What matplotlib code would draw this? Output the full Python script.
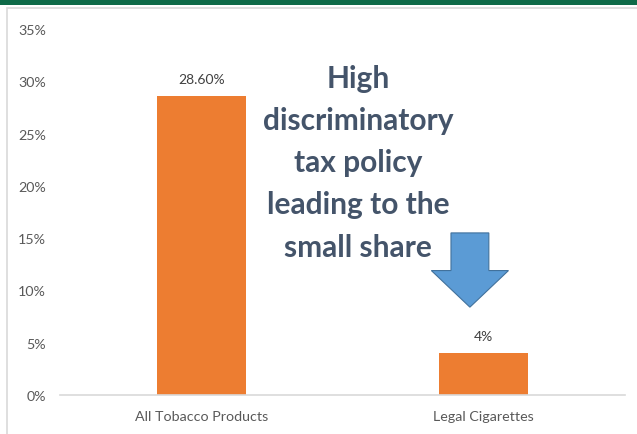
import matplotlib.pyplot as plt
from matplotlib.patches import Rectangle, FancyArrow
from matplotlib.ticker import PercentFormatter

plt.rcParams['font.family'] = ['Lato', 'DejaVu Sans']

categories = ['All Tobacco Products', 'Legal Cigarettes']
shares = [28.6, 4.0]
value_labels = ['28.60%', '4%']
yticks = [0, 5, 10, 15, 20, 25, 30, 35]
note = 'High\ndiscriminatory\ntax policy\nleading to the\nsmall share'

W, H = 637, 435
fig = plt.figure(figsize=(W / 100, H / 100), dpi=100)

# green banner and light frame
fig.patches.append(Rectangle((0, 1 - 6 / H), 1, 6 / H, transform=fig.transFigure,
                             facecolor='#0e6a48', edgecolor='none', zorder=0))
fig.patches.append(Rectangle((7 / W, -0.05), 1.0, 1 - 9 / H + 0.05, transform=fig.transFigure,
                             facecolor='none', edgecolor='#d9d9d9', linewidth=1.2, zorder=0))

ax = fig.add_axes([60 / W, 39 / H, 565 / W, 366 / H])
x = range(len(categories))
ax.bar(x, shares, width=0.315, color='#ed7d31', zorder=2)
for xi, v, lab in zip(x, shares, value_labels):
    ax.annotate(lab, (xi, v), xytext=(0, 8), textcoords='offset points',
                ha='center', va='bottom', fontsize=10, color='#404040')

ax.set_xlim(-0.5, 1.5)
ax.set_ylim(0, 35)
ax.set_yticks(yticks)
ax.yaxis.set_major_formatter(PercentFormatter(decimals=0))
ax.set_xticks(list(x))
ax.set_xticklabels(categories)
ax.tick_params(axis='both', length=0, labelsize=10.3, labelcolor='#595959')
ax.tick_params(axis='y', pad=10)
ax.tick_params(axis='x', pad=11)
for s in ['top', 'right', 'left']:
    ax.spines[s].set_visible(False)
ax.spines['bottom'].set_color('#d9d9d9')
ax.spines['bottom'].set_linewidth(1.2)

ax.text(0.555, 31.7, note, ha='center', va='top', fontsize=21.5, fontweight='bold',
        color='#44546a', linespacing=1.62)

ax.add_patch(FancyArrow(0.951, 15.5, 0, -7.1, width=0.134, head_width=0.273,
                        head_length=3.5, length_includes_head=True,
                        facecolor='#5b9bd5', edgecolor='#41719c', linewidth=0.8, zorder=3))

fig.savefig('out.png', dpi=100)
